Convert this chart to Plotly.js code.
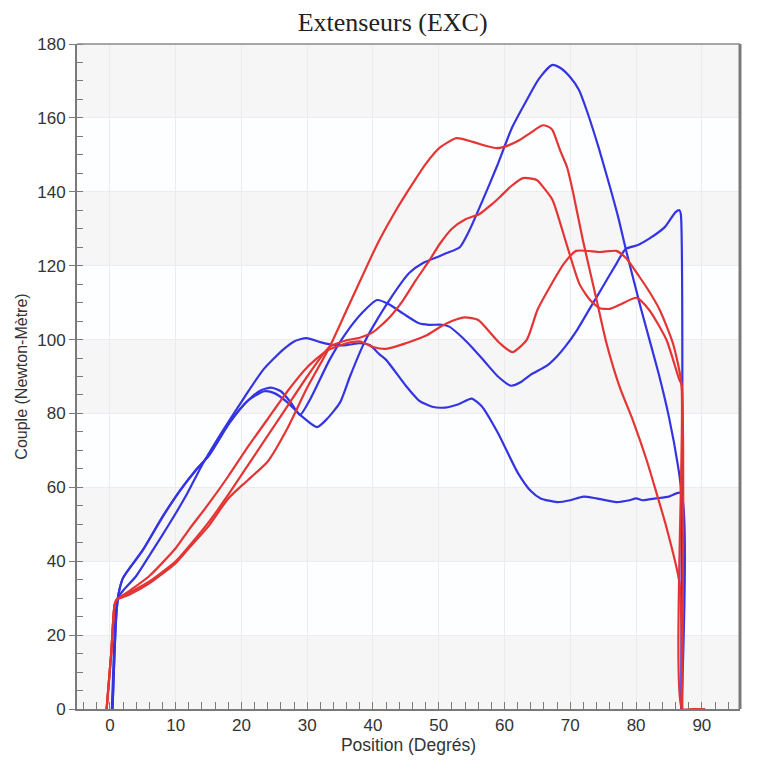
<!DOCTYPE html>
<html>
<head>
<meta charset="utf-8">
<script src="https://cdn.plot.ly/plotly-3.0.1.min.js"></script>
<style>html,body{margin:0;padding:0;background:#fff;}#chart{width:758px;height:764px;}</style>
</head>
<body>
<div id="chart"></div>
<script>
// Blue series (position in degrees, torque in N·m)
const blueA_x = [0.3,0.6,0.9,1.2,2,4,6,9,11.5,14,16,18.2,20.5,23.3,26.3,28,29.9,32,34,36,38,39.5,41,42,45,47,49,51,53,55,56.5,59,62,64,65.5,68,70,72,74,77,79,80,81,83,85,86.8,86.9];
const blueA_y = [0,15,26,30,32,36,41.5,50,57.5,66,72,78.2,84.5,91.8,97.2,99.5,100.4,99.3,98.5,98.5,99,98.5,96,94.5,87.5,83.5,81.8,81.6,82.5,84,82,74.7,64,59,57,56,56.5,57.5,57,56,56.5,57,56.5,57,57.5,58.5,0];

const blueB_x = [0.4,0.7,1.0,1.3,2,5,8,10.6,13,15,18.2,21,23,24.5,26,27.5,28.9,30.5,33.4,36,38.5,40.6,42.5,44.6,47,48.5,50.5,51.6,53,55,57,59,61,62.5,64,66.5,68,69.2,71,73,75,77,78.4,80.3,82,84.4,86,86.6,86.8,86.9];
const blueB_y = [0,15,26,31,35.5,43,52,59,64.5,68.5,77.5,83.5,86.3,87,86,83,79.6,84,94.5,102,107.5,110.7,109.5,107,104.4,104,104,103.5,101.5,98,94,90,87.5,88.5,90.5,93,95.5,98,102.5,108.5,114.5,120.5,124.5,125.6,127.3,130.5,134.5,135,134,0];

const blueC_x = [0.4,0.7,1.0,1.3,2,5,8,10.6,13,15,18.2,21,23.5,25,27,29,31.5,33,35,36.5,38.5,40,42.5,45.5,47.6,50,51.2,53.2,54.7,56.7,58.8,61.2,63.4,65.2,67.2,68.5,70,71.3,72.5,74.3,76,77.3,78.5,80.8,83.4,85,86.4,86.8,86.9];
const blueC_y = [0,15,26,31,35.5,43,52,59,64.5,68.5,77.5,83.5,86,85.5,83,79.5,76.3,78.5,83,90,98.5,103.5,110.7,118,120.7,122.5,123.4,125,129.7,137.8,146.7,157.6,164.9,170.5,174.3,173.5,171,167.6,162,152,141.5,133,124,108,91,79,65.5,60,0];

// Red series
const redR1_x = [-0.5,0.2,0.7,1,3,6,10,12,15,18,21,24,27,30,33.4,36,39.5,41,43.5,46.1,48,50.2,52.7,55.2,57,58.8,60.5,62.3,64,65.8,66.8,67.3,68.5,69.5,70.4,71.9,74,75.5,77.5,79.5,81.6,83.1,84.6,86.6,87];
const redR1_y = [0,15,28,29.5,31,34,39.5,43.5,49.5,57,62,67,76,87,98,108,121.5,127,135,142.4,147.5,152,154.5,153.5,152.5,151.8,152.5,154,156,158,157.5,156.7,151,146.7,140,127,110.7,99,87.2,78.2,67.4,58.5,49.3,34.1,0];

const redR2_x = [-0.5,0.2,0.7,1,3,6,10,12,15,18,21,24,27,30,33.4,36,38,40,42.5,44.6,46.5,48.6,50.2,52,54,56.2,58,59.3,61,62.8,64.9,66,67.3,69.4,71.4,73,74.5,76,77.5,80.1,82,84.6,86.6,86.9,87];
const redR2_y = [0,15,28,29.5,31.5,34.5,40,44,50.5,58,66,74,82,90,98,99.8,100.5,102,106,110.7,116,121.5,126,130,132.5,134,136.5,138.6,141.5,143.7,143.2,141,137.8,126,115,110.7,108.5,108.3,109.4,111.3,108,100,89,88,0];

const redR3_x = [-0.5,0.2,0.7,1,3,6,10,12,15,18,21,24,27,30,33,36,38,40,42,45,48,50.2,52,54,56,58,59.3,61.2,63.4,65,67.3,69,70.9,74.5,77,78.5,80.5,82,83.6,85.6,86.9,87,88.5,90.5];
const redR3_y = [0,15,28,29.5,32,36,43.5,48.5,55.5,63,71,78.5,86,92.5,97,99,99.5,98,97.5,99,101,103.4,105,106,105.3,101.5,99,96.6,100,108,115.5,120.5,124,123.7,124,122,117,113,108,99,88,0,0,0];

const xTickVals = [0,10,20,30,40,50,60,70,80,90];
const yTickVals = [0,20,40,60,80,100,120,140,160,180];
const bandStarts = [0,40,80,120,160];

const BLUE = 'rgb(52,52,226)';
const RED = 'rgb(228,52,52)';

function tr(x, y, c) {
  return {x: x, y: y, type: 'scatter', mode: 'lines',
    line: {color: c, width: 2.2, shape: 'spline', smoothing: 0.6},
    hoverinfo: 'skip', showlegend: false};
}

const data = [
  tr(blueA_x, blueA_y, BLUE),
  tr(blueB_x, blueB_y, BLUE),
  tr(blueC_x, blueC_y, BLUE),
  tr(redR1_x, redR1_y, RED),
  tr(redR2_x, redR2_y, RED),
  tr(redR3_x, redR3_y, RED)
];

const shapes = bandStarts.map(s => ({
  type: 'rect', xref: 'paper', yref: 'y', x0: 0, x1: 1, y0: s, y1: s + 20,
  fillcolor: '#f6f6f7', line: {width: 0}, layer: 'below'
}));
// right and top frame
shapes.push({type: 'line', xref: 'paper', yref: 'paper', x0: 1, x1: 1, y0: 0, y1: 1,
  line: {color: '#7a7a7a', width: 3}});
shapes.push({type: 'line', xref: 'paper', yref: 'paper', x0: 0, x1: 1, y0: 1, y1: 1,
  line: {color: '#8a8a8a', width: 1.5}});

const tickFont = {family: 'Liberation Sans, Arial, sans-serif', size: 17, color: '#333'};

const layout = {
  width: 758, height: 764,
  margin: {l: 77, r: 18, t: 44, b: 55},
  paper_bgcolor: '#ffffff',
  plot_bgcolor: '#fdfeff',
  title: {text: 'Extenseurs (EXC)', x: 0.518, xanchor: 'center', y: 0.971, yanchor: 'middle',
    font: {family: 'Liberation Serif, Times New Roman, serif', size: 26, color: '#222'}},
  xaxis: {
    range: [-5, 95.8], tickvals: xTickVals, ticktext: xTickVals.map(String),
    showgrid: true, gridcolor: '#ececf0', gridwidth: 1, zeroline: false,
    showline: true, linecolor: '#7a7a7a', linewidth: 2,
    ticks: 'inside', ticklen: 7, tickcolor: '#7a7a7a', tickwidth: 1,
    minor: {dtick: 2, tick0: 0, ticks: 'inside', ticklen: 7, tickcolor: '#7a7a7a', tickwidth: 1, showgrid: false},
    tickfont: tickFont,
    title: {text: 'Position (Degrés)', standoff: 4,
      font: {family: 'Liberation Sans, Arial, sans-serif', size: 17.5, color: '#333'}}
  },
  yaxis: {
    range: [0, 180], tickvals: yTickVals, ticktext: yTickVals.map(String),
    showgrid: true, gridcolor: '#ececf0', gridwidth: 1, zeroline: false,
    showline: true, linecolor: '#7a7a7a', linewidth: 2,
    ticks: 'outside', ticklen: 6, tickcolor: '#7a7a7a', tickwidth: 1,
    minor: {dtick: 5, tick0: 0, ticks: 'inside', ticklen: 6, tickcolor: '#7a7a7a', tickwidth: 1, showgrid: false},
    tickfont: tickFont,
    title: {text: 'Couple (Newton-Mètre)', standoff: 6,
      font: {family: 'Liberation Sans, Arial, sans-serif', size: 16, color: '#333'}}
  },
  shapes: shapes
};

Plotly.newPlot('chart', data, layout, {displayModeBar: false, staticPlot: true});
</script>
</body>
</html>
